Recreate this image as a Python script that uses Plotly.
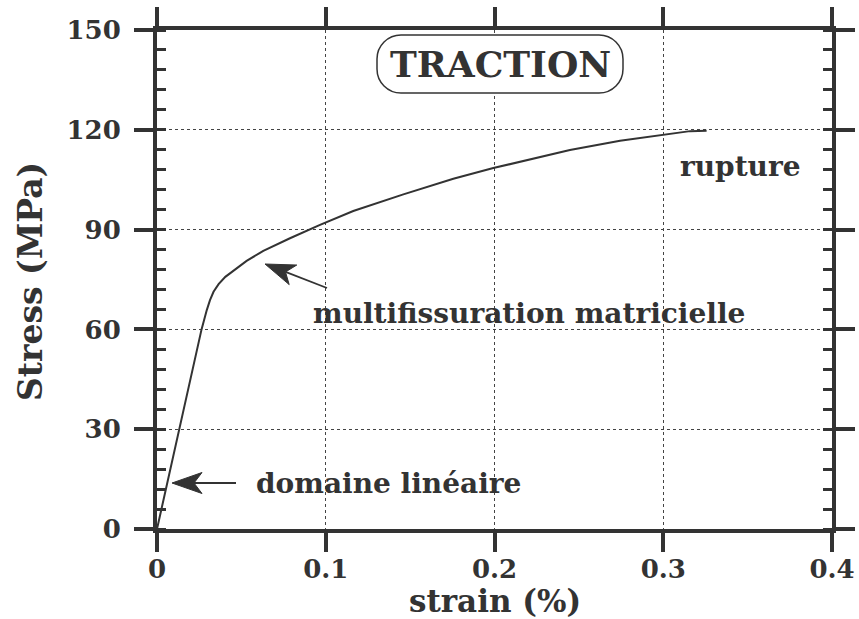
import math
import plotly.graph_objects as go

# ---- data ----
strain = [0, 0.0098, 0.0196, 0.0264, 0.0295, 0.0314, 0.0335, 0.0365, 0.0405, 0.0455,
          0.0531, 0.063, 0.0788, 0.0966, 0.1163, 0.146, 0.1756, 0.1993, 0.2447,
          0.2744, 0.300, 0.3159, 0.3257]
stress = [0, 22.4, 44.8, 60, 65.8, 68.8, 71.3, 73.6, 75.8, 77.8,
          80.6, 83.6, 87.4, 91.4, 95.6, 100.6, 105.3, 108.5, 113.9,
          116.7, 118.6, 119.6, 119.7]

x_ticks = [0, 0.1, 0.2, 0.3, 0.4]
x_tick_labels = ["0", "0.1", "0.2", "0.3", "0.4"]
y_ticks = [0, 30, 60, 90, 120, 150]
y_tick_labels = ["0", "30", "60", "90", "120", "150"]

title_box = "TRACTION"
x_title = "strain (%)"
y_title = "Stress (MPa)"
label_rupture = "rupture"
label_multi = "multifissuration matricielle"
label_lin = "domaine linéaire"

# ---- layout ----
W, H = 859, 619
ML, MR, MT, MB = 157, 27, 30, 90
PW, PH = W - ML - MR, H - MT - MB
XR, YR = [0, 0.4], [0, 150]
INK = "#333333"
FONT = "DejaVu Serif"

fig = go.Figure()
fig.add_trace(go.Scatter(x=strain, y=stress, mode="lines",
                         line=dict(color=INK, width=2), hoverinfo="skip",
                         showlegend=False))

axis_common = dict(
    automargin=False,
    showline=True, linewidth=4, linecolor=INK, mirror="ticks",
    ticks="outside", ticklen=19, tickwidth=4, tickcolor=INK,
    showgrid=True, gridcolor="#444444", gridwidth=1, griddash="dot",
    zeroline=False,
    tickfont=dict(family=FONT, size=26, color=INK, weight="bold"),
)
fig.update_xaxes(range=XR, tickmode="array", tickvals=x_ticks, ticktext=x_tick_labels,
                 ticklabelstandoff=-5, **axis_common)
fig.update_yaxes(range=YR, tickmode="array", tickvals=y_ticks, ticktext=y_tick_labels,
                 ticklabelstandoff=8,
                 minor=dict(ticks="inside", ticklen=9, tickwidth=3, tickcolor=INK,
                            dtick=6, tick0=0, showgrid=False),
                 **axis_common)

def px2data(px, py):
    return (XR[0] + (px - ML) / PW * (XR[1] - XR[0]),
            YR[0] + (MT + PH - py) / PH * (YR[1] - YR[0]))

annots = []
shapes = []

# rounded box with TRACTION
bx, by = px2data(500, 64)
hw, hh, r = 123, 29, 24
k = 0.5523 * r
path = (f"M{-hw + r},{-hh} L{hw - r},{-hh} "
        f"C{hw - r + k},{-hh} {hw},{-hh + r - k} {hw},{-hh + r} "
        f"L{hw},{hh - r} "
        f"C{hw},{hh - r + k} {hw - r + k},{hh} {hw - r},{hh} "
        f"L{-hw + r},{hh} "
        f"C{-hw + r - k},{hh} {-hw},{hh - r + k} {-hw},{hh - r} "
        f"L{-hw},{-hh + r} "
        f"C{-hw},{-hh + r - k} {-hw + r - k},{-hh} {-hw + r},{-hh} Z")
shapes.append(dict(type="path", xref="x", yref="y", xsizemode="pixel", ysizemode="pixel",
                   xanchor=bx, yanchor=by, path=path,
                   line=dict(color=INK, width=1.5), fillcolor="white", layer="above"))
annots.append(dict(x=bx, y=by, xref="x", yref="y", text=title_box, showarrow=False,
                   font=dict(family=FONT, size=36, color=INK, weight="bold"),
                   xanchor="center", yanchor="middle"))

def add_label(px, py, text, size=28):
    x, y = px2data(px, py)
    annots.append(dict(x=x, y=y, xref="x", yref="y", text=text, showarrow=False,
                       font=dict(family=FONT, size=size, color=INK, weight="bold"),
                       xanchor="center", yanchor="middle"))

add_label(740, 166, label_rupture)
add_label(529, 313, label_multi)
add_label(388, 483, label_lin)

def add_arrow(tip_px, tail_px):
    tx, ty = px2data(*tip_px)
    sx, sy = px2data(*tail_px)
    dx = tail_px[0] - tip_px[0]
    dy = -(tail_px[1] - tip_px[1])
    n = math.hypot(dx, dy)
    ux, uy = dx / n, dy / n
    vx, vy = -uy, ux
    L, Wd, notch = 30, 21, 8
    pts = [(0, 0),
           (L * ux + Wd / 2 * vx, L * uy + Wd / 2 * vy),
           ((L - notch) * ux, (L - notch) * uy),
           (L * ux - Wd / 2 * vx, L * uy - Wd / 2 * vy)]
    p = "M" + " L".join(f"{a:.2f},{b:.2f}" for a, b in pts) + " Z"
    nxp = tip_px[0] + (L - notch) * ux
    nyp = tip_px[1] - (L - notch) * uy
    nx, ny = px2data(nxp, nyp)
    shapes.append(dict(type="line", xref="x", yref="y", x0=sx, y0=sy, x1=nx, y1=ny,
                       line=dict(color=INK, width=1.8), layer="above"))
    shapes.append(dict(type="path", xref="x", yref="y", xsizemode="pixel",
                       ysizemode="pixel", xanchor=tx, yanchor=ty, path=p,
                       line=dict(color=INK, width=1), fillcolor=INK, layer="above"))

add_arrow((172, 483), (236, 483))
add_arrow((265, 264), (327, 288))

# axis titles
annots.append(dict(x=0.5, y=(MT + PH - 601) / PH, xref="paper", yref="paper",
                   text=x_title, showarrow=False,
                   font=dict(family=FONT, size=31, color=INK, weight="bold"),
                   xanchor="center", yanchor="middle"))
annots.append(dict(x=(30 - ML) / PW, y=(MT + PH - 282) / PH, xref="paper", yref="paper",
                   text=y_title, showarrow=False, textangle=-90,
                   font=dict(family=FONT, size=33, color=INK, weight="bold"),
                   xanchor="center", yanchor="middle"))

fig.update_layout(width=W, height=H, margin=dict(l=ML, r=MR, t=MT, b=MB),
                  plot_bgcolor="white", paper_bgcolor="white",
                  annotations=annots, shapes=shapes, showlegend=False)

fig.write_html("out.html", config={"displayModeBar": False},
               post_script="document.body.style.margin='0px';"
                           "document.body.style.overflow='hidden';")
